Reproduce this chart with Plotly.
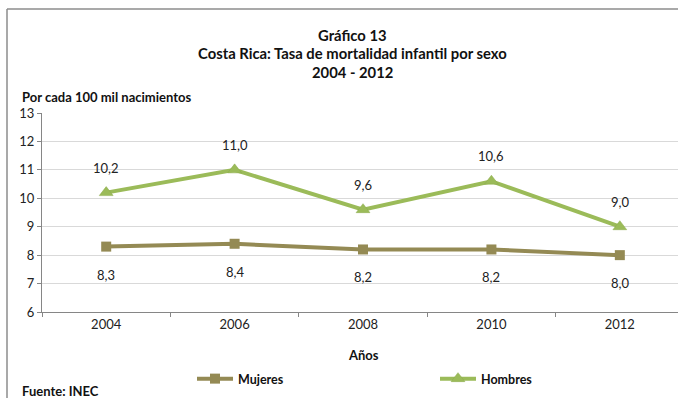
import plotly.graph_objects as go

years = ["2004", "2006", "2008", "2010", "2012"]
mujeres = [8.3, 8.4, 8.2, 8.2, 8.0]
hombres = [10.2, 11.0, 9.6, 10.6, 9.0]
mujeres_labels = ["8,3", "8,4", "8,2", "8,2", "8,0"]
hombres_labels = ["10,2", "11,0", "9,6", "10,6", "9,0"]
y_ticks = [6, 7, 8, 9, 10, 11, 12, 13]

FONT = "Lato"
C_MUJ = "#948A54"
C_HOM = "#9BBB59"

W, H = 678, 398
ML, MR, MT, MB = 42, 0, 113, 86
PW, PH = W - ML - MR, H - MT - MB


def px(xp):
    return (xp - ML) / PW


def py(yp):
    return (H - MB - yp) / PH


fig = go.Figure()
fig.add_trace(go.Scatter(
    x=years, y=mujeres, name="<b>Mujeres</b>", mode="lines+markers",
    line=dict(color=C_MUJ, width=4),
    marker=dict(symbol="square", size=10, color=C_MUJ),
))
fig.add_trace(go.Scatter(
    x=years, y=hombres, name="<b>Hombres</b>", mode="lines+markers",
    line=dict(color=C_HOM, width=4),
    marker=dict(symbol="triangle-up", size=12, color=C_HOM, line=dict(color="#8AAA4A", width=0.5)),
))

annotations = []
for i, (y, t) in enumerate(zip(hombres, hombres_labels)):
    annotations.append(dict(x=i, y=y, xref="x", yref="y", text=t, showarrow=False,
                            yshift=25, font=dict(family=FONT, size=13, color="#222")))
for i, (y, t) in enumerate(zip(mujeres, mujeres_labels)):
    annotations.append(dict(x=i, y=y, xref="x", yref="y", text=t, showarrow=False,
                            yshift=-28, font=dict(family=FONT, size=13, color="#222")))

TF = dict(family=FONT, size=14.8, color="#111")
annotations += [
    dict(x=px(352), y=py(35), xref="paper", yref="paper", showarrow=False,
         text="<b>Gráfico 13</b>", font=TF, yanchor="middle"),
    dict(x=px(352), y=py(53), xref="paper", yref="paper", showarrow=False,
         text="<b>Costa Rica: Tasa de mortalidad infantil por sexo</b>", font=TF, yanchor="middle"),
    dict(x=px(352), y=py(72), xref="paper", yref="paper", showarrow=False,
         text="<b>2004 - 2012</b>", font=TF, yanchor="middle"),
    dict(x=px(20), y=py(97), xref="paper", yref="paper", showarrow=False, xanchor="left",
         text="<b>Por cada 100 mil nacimientos</b>", font=dict(family=FONT, size=13, color="#111"), yanchor="middle"),
    dict(x=2, y=py(355), xref="x", yref="paper", showarrow=False,
         text="<b>Años</b>", font=dict(family=FONT, size=13, color="#111"), yanchor="middle"),
    dict(x=px(20), y=py(391), xref="paper", yref="paper", showarrow=False, xanchor="left",
         text="<b>Fuente: INEC</b>", font=dict(family=FONT, size=13, color="#111"), yanchor="middle"),
]

shapes = [
    dict(type="line", xref="paper", yref="paper", x0=px(7), x1=px(W), y0=py(9), y1=py(9),
         line=dict(color="#8C8C8C", width=1.5)),
    dict(type="line", xref="paper", yref="paper", x0=px(7), x1=px(7), y0=py(H), y1=py(9),
         line=dict(color="#8C8C8C", width=1.5)),
]

fig.update_layout(
    width=W, height=H,
    margin=dict(l=ML, r=MR, t=MT, b=MB, autoexpand=False),
    paper_bgcolor="white", plot_bgcolor="white",
    font=dict(family=FONT, size=13, color="#222"),
    showlegend=True,
    legend=dict(orientation="h", x=px(192), y=py(379), xanchor="left", yanchor="middle",
                entrywidth=192, entrywidthmode="pixels", itemwidth=36,
                font=dict(family=FONT, size=12.5, color="#111"), tracegroupgap=0,
                bgcolor="rgba(0,0,0,0)"),
    annotations=annotations,
    shapes=shapes,
)
fig.update_xaxes(
    type="category", range=[-0.5, 4.453], tickson="boundaries",
    ticks="outside", ticklen=4, tickcolor="#868686",
    showline=True, linecolor="#868686", linewidth=1, automargin=False,
    showgrid=False, tickfont=dict(family=FONT, size=13, color="#222"),
)
fig.update_yaxes(
    range=[6, 13], tickvals=y_ticks, ticks="outside", ticklen=4, tickcolor="#868686",
    showline=True, linecolor="#868686", linewidth=1, automargin=False,
    showgrid=True, gridcolor="#D9D9D9", gridwidth=1,
    tickfont=dict(family=FONT, size=13, color="#222"), zeroline=False,
)

fig.write_html("out.html", config={"displayModeBar": False},
               post_script="document.body.style.margin='0';document.body.style.overflow='hidden';")
